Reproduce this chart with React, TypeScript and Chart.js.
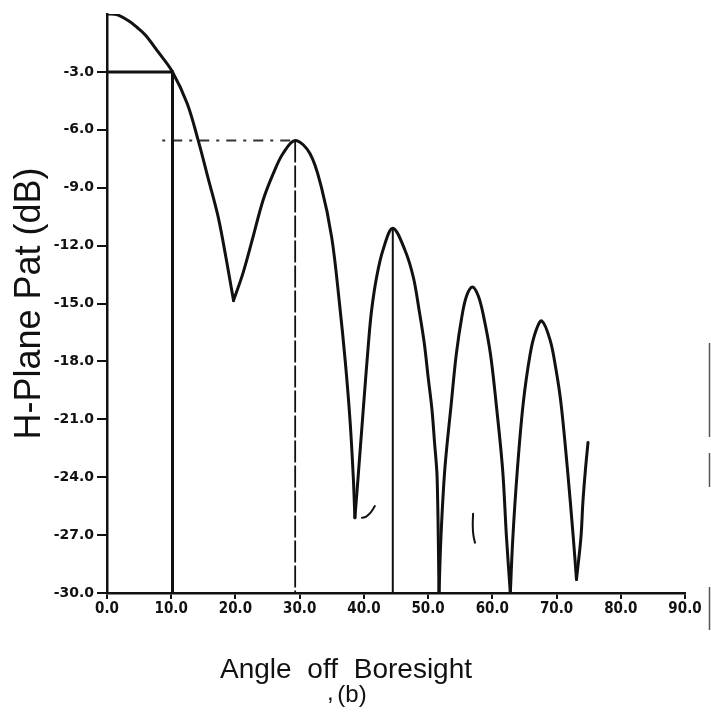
import { useEffect, useRef } from 'react';
import { Chart, registerables } from 'chart.js';

Chart.register(...registerables);

// H-plane radiation pattern, angle (deg) vs relative level (dB)
const patternDeg = [
  0, 1.5, 3.3, 4.7, 6.0, 8.0, 10.2, 12.5, 14.2, 15.7, 17.3, 18.6, 19.7,
  21.2, 22.7, 24.3, 25.9, 27.4, 29.3, 31.6, 33.4, 35.0, 36.2, 37.1, 37.85, 38.35, 38.6,
  39.1, 39.9, 40.7, 41.2, 42.0, 43.0, 44.5, 46.4, 47.7, 48.6, 49.4, 50.0, 50.6, 51.0, 51.4, 51.7,
  52.0, 52.6, 53.6, 54.4, 55.3, 56.0, 56.9, 57.8, 58.6, 59.7, 60.6, 61.6, 62.2, 62.8,
  63.2, 63.9, 64.8, 65.9, 66.8, 67.7, 69.0, 69.9, 70.7, 71.7, 72.6, 73.1,
  73.8, 74.1, 74.5, 74.9,
];
const patternDb = [
  0, -0.03, -0.34, -0.7, -1.1, -1.98, -3.0, -4.65, -6.55, -8.45, -10.5, -12.76, -14.85,
  -13.4, -11.6, -9.65, -8.26, -7.23, -6.55, -7.23, -9.0, -11.6, -15.0, -18.0, -21.1, -24.0, -26.1,
  -24.0, -20.5, -17.1, -15.35, -13.6, -12.2, -11.1, -12.24, -13.64, -15.35, -17.05, -18.8, -20.5, -22.2, -24.0, -30.0,
  -27.1, -23.6, -20.2, -17.6, -15.6, -14.6, -14.15, -14.6, -15.6, -17.6, -20.2, -23.6, -27.1, -30.0,
  -27.1, -23.6, -20.2, -17.6, -16.4, -15.9, -16.9, -18.4, -20.2, -23.6, -27.1, -29.3,
  -27.1, -25.3, -23.6, -22.2,
];

// -3 dB beamwidth marker
const halfPowerDeg = [0, 10.2, 10.2];
const halfPowerDb = [-3, -3, -30];

// first sidelobe level guide and drop lines at the sidelobe peaks
const sidelobeLevelDeg = [8.6, 29.3];
const sidelobeLevelDb = [-6.55, -6.55];
const firstSidelobeDeg = [29.3, 29.3];
const firstSidelobeDb = [-6.55, -30];
const secondSidelobeDeg = [44.5, 44.5];
const secondSidelobeDb = [-11.1, -30];

// small pen strokes on the sheet
const penMarkADeg = [39.7, 40.3, 41.0, 41.7];
const penMarkADb = [-26.1, -26.05, -25.85, -25.5];
const penMarkBDeg = [57.0, 56.95, 57.05, 57.3];
const penMarkBDb = [-25.9, -26.5, -27.0, -27.4];

const xTickValues = [0, 10, 20, 30, 40, 50, 60, 70, 80, 90];
const yTickValues = [-3, -6, -9, -12, -15, -18, -21, -24, -27, -30];

const xTitle = 'Angle off Boresight';
const yTitle = 'H-Plane Pat (dB)';
const panelLabel = '(b)';

const toPoints = (xs: number[], ys: number[]) => xs.map((x, i) => ({ x, y: ys[i] }));

// Split the pattern into lobes at its nulls so each lobe is smoothed on its own
// and the nulls stay sharp.
function splitAtNulls(xs: number[], ys: number[]) {
  const lobes: { x: number; y: number }[][] = [];
  let current: { x: number; y: number }[] = [];
  xs.forEach((x, i) => {
    current.push({ x, y: ys[i] });
    const isNull = i > 0 && i < xs.length - 1 && ys[i] < ys[i - 1] && ys[i] < ys[i + 1];
    if (isNull) {
      lobes.push(current);
      current = [{ x, y: ys[i] }];
    }
  });
  if (current.length > 1) lobes.push(current);
  return lobes;
}

const INK = '#111';

const annotationPlugin = {
  id: 'sheetText',
  afterDraw(chart: Chart) {
    const ctx = chart.ctx;
    ctx.save();
    ctx.fillStyle = INK;
    ctx.textBaseline = 'middle';
    ctx.textAlign = 'center';
    ctx.font = '28px "Liberation Sans", Arial, sans-serif';
    (ctx as any).wordSpacing = '8px';
    ctx.fillText(xTitle, 346, 670);
    (ctx as any).wordSpacing = '0px';
    ctx.font = '24px "Liberation Sans", Arial, sans-serif';
    ctx.fillText(panelLabel, 352, 695);
    ctx.textAlign = 'left';
    ctx.textBaseline = 'alphabetic';
    ctx.fillText(',', 327, 700);
    // page edge on the right
    ctx.strokeStyle = '#555';
    ctx.lineWidth = 1.5;
    const edges: [number, number][] = [[343, 437], [453, 487], [587, 630]];
    edges.forEach(([a, b]) => {
      ctx.beginPath();
      ctx.moveTo(709.5, a);
      ctx.lineTo(709.5, b);
      ctx.stroke();
    });
    ctx.restore();
  },
};

export default function App() {
  const canvasRef = useRef<HTMLCanvasElement | null>(null);

  useEffect(() => {
    const canvas = canvasRef.current;
    if (!canvas) return;
    const line = (data: { x: number; y: number }[], width: number, extra: any = {}) => ({
      data,
      borderColor: INK,
      borderWidth: width,
      pointRadius: 0,
      fill: false,
      tension: 0,
      capBezierPoints: false,
      borderCapStyle: 'round',
      borderJoinStyle: 'round',
      ...extra,
    });
    const lobes = splitAtNulls(patternDeg, patternDb).map((pts) =>
      line(pts, 3, { tension: 0.35, borderJoinStyle: 'miter' })
    );
    const chart = new Chart(canvas, {
      type: 'line',
      data: {
        datasets: [
          ...lobes,
          line(toPoints(halfPowerDeg, halfPowerDb), 3, { borderJoinStyle: 'miter', borderCapStyle: 'butt' }),
          line(toPoints(sidelobeLevelDeg, sidelobeLevelDb), 2, { borderDash: [3, 7, 10, 7], borderColor: '#333', borderCapStyle: 'butt' }),
          line(toPoints(firstSidelobeDeg, firstSidelobeDb), 1.8, { borderDash: [22, 3], borderCapStyle: 'butt' }),
          line(toPoints(secondSidelobeDeg, secondSidelobeDb), 2, { borderCapStyle: 'butt' }),
          line(toPoints(penMarkADeg, penMarkADb), 2, { tension: 0.4 }),
          line(toPoints(penMarkBDeg, penMarkBDb), 2, { tension: 0.4 }),
        ],
      },
      options: {
        animation: false,
        responsive: false,
        events: [],
        layout: { padding: { top: 14, right: 26, left: 0, bottom: 0 } },
        plugins: {
          legend: { display: false },
          tooltip: { enabled: false },
          title: { display: false },
        },
        scales: {
          x: {
            type: 'linear',
            min: 0,
            max: 90,
            afterFit: (s: any) => { s.height = 125; },
            afterBuildTicks: (s: any) => { s.ticks = xTickValues.map((v) => ({ value: v })); },
            grid: { drawOnChartArea: false, drawTicks: true, tickLength: 6, color: INK, lineWidth: 2 },
            border: { display: true, color: INK, width: 2.5 },
            ticks: {
              autoSkip: false,
              maxRotation: 0,
              padding: 1,
              color: INK,
              font: { family: '"Liberation Sans Narrow", "DejaVu Sans Condensed", sans-serif', size: 15, weight: 'bold' },
              callback: (v: any) => Number(v).toFixed(1),
            },
          },
          y: {
            type: 'linear',
            min: -30,
            max: 0,
            afterFit: (s: any) => { s.width = 107; },
            afterBuildTicks: (s: any) => { s.ticks = yTickValues.map((v) => ({ value: v })); },
            grid: { drawOnChartArea: false, drawTicks: true, tickLength: 10, color: INK, lineWidth: 2 },
            border: { display: true, color: INK, width: 2.5 },
            title: {
              display: true,
              text: yTitle,
              color: INK,
              font: { family: '"Liberation Sans", Arial, sans-serif', size: 36 },
              padding: { top: 8, bottom: 0 },
            },
            ticks: {
              autoSkip: false,
              padding: 3,
              color: INK,
              font: { family: '"DejaVu Sans", sans-serif', size: 14, weight: 'bold' },
              callback: (v: any) => Number(v).toFixed(1),
            },
          },
        },
      },
      plugins: [annotationPlugin],
    });
    return () => chart.destroy();
  }, []);

  return (
    <div style={{ position: 'absolute', left: 0, top: 0, width: 711, height: 718, background: '#fff' }}>
      <canvas ref={canvasRef} width={711} height={718} style={{ display: 'block' }} />
    </div>
  );
}
